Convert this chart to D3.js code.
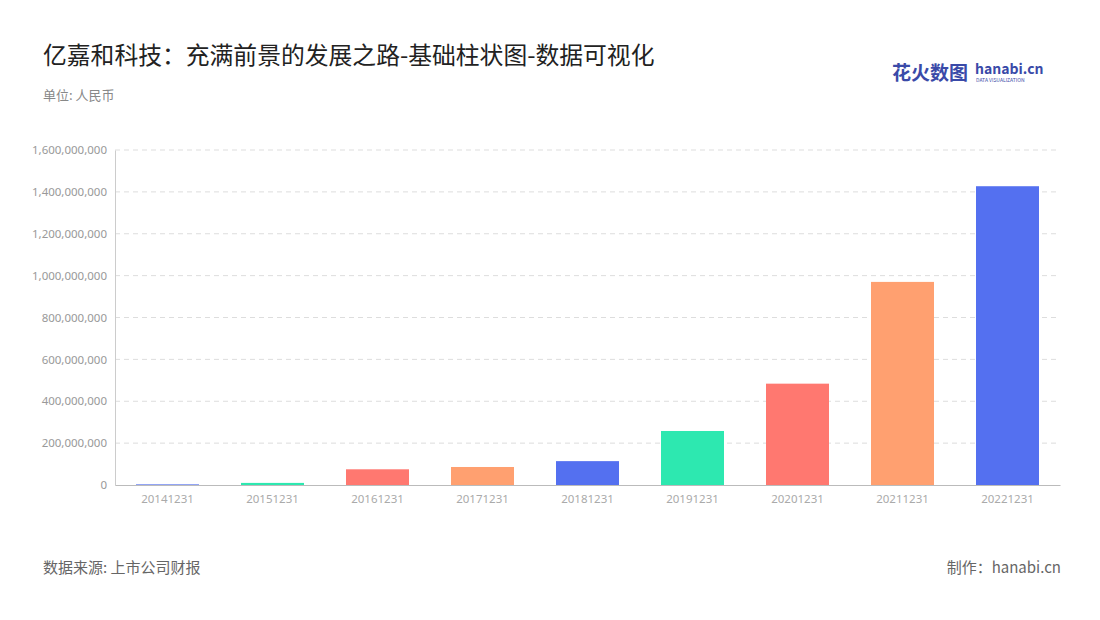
<!DOCTYPE html>
<html><head><meta charset="utf-8">
<script src="https://cdn.jsdelivr.net/npm/d3@7/dist/d3.min.js"></script>
<style>body{margin:0;background:#fff;font-family:"Noto Sans CJK SC","Noto Sans",sans-serif;}</style>
</head><body>
<svg id="chart" width="1100" height="620"></svg>
<script>
// Chart data
const years = ["20141231","20151231","20161231","20171231","20181231","20191231","20201231","20211231","20221231"];
const revenue = [3000000, 10000000, 75000000, 86000000, 114000000, 258000000, 484000000, 970000000, 1427000000];
const palette = ["#5470f0", "#2de8b0", "#ff7870", "#ffa070"];
const yTicks = d3.range(0, 1600000001, 200000000);

const svg = d3.select("#chart");
const margin = {left: 115, right: 40, top: 150, bottom: 135};
const width = 1100 - margin.left - margin.right;
const height = 620 - margin.top - margin.bottom;

// Titles
svg.append("text").attr("x", 43).attr("y", 64).attr("font-size", 23.8).attr("fill", "#222")
    .text("亿嘉和科技：充满前景的发展之路-基础柱状图-数据可视化");
svg.append("text").attr("x", 43).attr("y", 100).attr("font-size", 13).attr("fill", "#888").text("单位: 人民币");
svg.append("text").attr("x", 43).attr("y", 573).attr("font-size", 15).attr("fill", "#666").text("数据来源: 上市公司财报");
svg.append("text").attr("x", 1061).attr("y", 573).attr("font-size", 15).attr("fill", "#666")
    .attr("text-anchor", "end").text("制作：hanabi.cn");

// Logo
svg.append("text").attr("x", 892).attr("y", 80).attr("font-size", 19).attr("font-weight", "bold")
    .attr("fill", "#3a4aa8").text("花火数图");
svg.append("text").attr("x", 975).attr("y", 74).attr("font-size", 14).attr("font-weight", "bold")
    .attr("fill", "#3a4aa8").text("hanabi.cn");
svg.append("text").attr("x", 976).attr("y", 82).attr("font-size", 5).attr("fill", "#3a4aa8").text("DATA VISUALIZATION");

const g = svg.append("g").attr("transform", `translate(${margin.left},${margin.top})`);

const x = d3.scaleBand().domain(years).range([0, width]).paddingInner(0.4).paddingOuter(0.2);
const y = d3.scaleLinear().domain([0, 1600000000]).range([height, 0]);

// Grid lines
g.selectAll(".grid").data(yTicks.slice(1)).enter().append("line")
    .attr("x1", 0).attr("x2", width)
    .attr("y1", d => y(d)).attr("y2", d => y(d))
    .attr("stroke", "#ddd").attr("stroke-dasharray", "5,4");

// Y axis
const yAxis = g.append("g").call(d3.axisLeft(y).tickValues(yTicks).tickFormat(d3.format(",")).tickSize(0).tickPadding(8));
yAxis.select(".domain").attr("stroke", "#ccc");
yAxis.selectAll("text").attr("fill", "#999").attr("font-size", 11.5).attr("font-family", "Noto Sans");

// X axis
const xAxis = g.append("g").attr("transform", `translate(0,${height})`)
    .call(d3.axisBottom(x).tickSize(0).tickPadding(10));
xAxis.select(".domain").attr("stroke", "#bbb");
xAxis.selectAll("text").attr("fill", "#aaa").attr("font-size", 11.5).attr("font-family", "Noto Sans");

// Bars
g.selectAll(".bar").data(years).enter().append("rect")
    .attr("x", d => x(d))
    .attr("width", x.bandwidth())
    .attr("y", (d, i) => y(revenue[i]))
    .attr("height", (d, i) => height - y(revenue[i]))
    .attr("fill", (d, i) => palette[i % palette.length]);
</script>
</body></html>
